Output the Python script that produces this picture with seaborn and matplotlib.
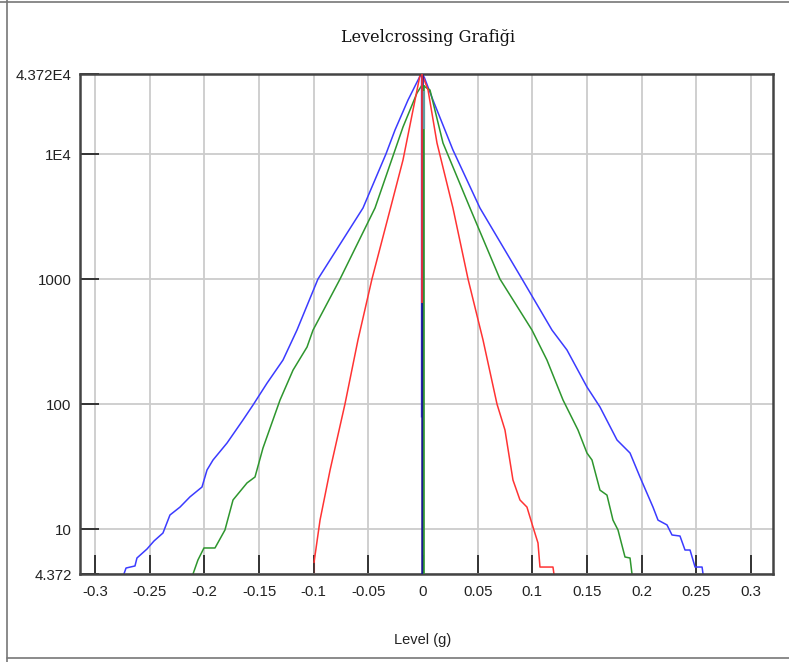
import numpy as np
import pandas as pd
import matplotlib
matplotlib.use('Agg')
import matplotlib.pyplot as plt
import seaborn as sns
from matplotlib.lines import Line2D

# Level crossing counts (level in g, count)
blue_level = [-0.2736, -0.2717, -0.2635, -0.2617, -0.2525, -0.2461, -0.2379, -0.2315,
              -0.2223, -0.2132, -0.2022, -0.1976, -0.1921, -0.1793, -0.1647, -0.1555,
              -0.1427, -0.1281, -0.1153, -0.0961, -0.0549, -0.0339, -0.0256, -0.0137,
              -0.0027, 0.0010, 0.0091, 0.0274, 0.0521, 0.0906, 0.1180, 0.1317, 0.1500,
              0.1619, 0.1775, 0.1894, 0.1985, 0.2104, 0.2150, 0.2232, 0.2278, 0.2351,
              0.2397, 0.2443, 0.2489, 0.2553, 0.2562]
blue_count = [4.372, 4.88, 5.07, 5.87, 6.93, 8.03, 9.30, 12.96,
              15.0, 18.1, 21.7, 29.7, 35.7, 48.8, 74.6, 98.3,
              147, 225, 391, 1001, 3704, 10015, 15590, 27080,
              42140, 41500, 27080, 10780, 3704, 1001, 391, 271, 137,
              94.8, 51.6, 40.6, 26.1, 15.0, 11.8, 10.8, 8.97, 8.80,
              6.80, 6.80, 4.97, 4.97, 4.372]

green_level = [-0.2104, -0.2059, -0.2004, -0.1903, -0.1812, -0.1738, -0.1610, -0.1537,
               -0.1464, -0.1308, -0.1189, -0.1061, -0.1006, -0.0759, -0.0439, -0.0183,
               -0.0055, -0.0009, 0.0064, 0.0183, 0.0430, 0.0704, 0.0997, 0.1134, 0.1281,
               0.1418, 0.1500, 0.1546, 0.1619, 0.1683, 0.1738, 0.1784, 0.1848, 0.1894,
               0.1912]
green_count = [4.372, 5.66, 7.06, 7.06, 9.83, 17.1, 23.4, 26.1,
               44.5, 107.8, 187, 286, 391, 1001, 3704, 16470,
               30810, 35700, 32560, 12260, 3704, 1001, 391, 225, 107.8,
               62.0, 40.6, 35.7, 20.5, 18.7, 11.8, 9.83, 5.98, 5.87,
               4.372]

red_level = [-0.0997, -0.0997, -0.0942, -0.0850, -0.0714, -0.0595, -0.0467, -0.0302,
             -0.0183, -0.0073, -0.0027, -0.0009, 0.0046, 0.0128, 0.0274, 0.0412, 0.0549,
             0.0677, 0.0750, 0.0823, 0.0887, 0.0951, 0.1006, 0.1052, 0.1070, 0.1189,
             0.1198]
red_count = [4.372, 6.44, 11.8, 29.7, 100, 326, 1001, 3570,
             8968, 27080, 42920, 43720, 32560, 12260, 3704, 1001, 326,
             100, 62.0, 24.7, 17.1, 15.0, 10.4, 7.74, 4.97, 4.97,
             4.372]

# vertical spikes at level 0
spike_level = [-0.0021, -0.0009, -0.0009, 0.0009, 0.0005]
spike_top = [42000, 43720, 43720, 35700, 32000]
spike_bottom = [78.8, 4.372, 643, 4.372, 16000]
spike_color = ['#4d4dff', '#1a1a8c', '#ff3333', '#2e962e', '#5f9ea0']
spike_width = [1.0, 1.8, 1.2, 1.2, 1.6]

x_ticks = [-0.3, -0.25, -0.2, -0.15, -0.1, -0.05, 0, 0.05, 0.1, 0.15, 0.2, 0.25, 0.3]
x_labels = ['-0.3', '-0.25', '-0.2', '-0.15', '-0.1', '-0.05', '0', '0.05', '0.1',
            '0.15', '0.2', '0.25', '0.3']
y_ticks = [4.372, 10, 100, 1000, 1e4, 4.372e4]
y_labels = ['4.372', '10', '100', '1000', '1E4', '4.372E4']

sns.set_style('whitegrid')
plt.rcParams['font.family'] = ['Liberation Sans', 'DejaVu Sans']

fig = plt.figure(figsize=(7.89, 6.62), dpi=100)
ax = fig.add_axes([80 / 789, 1 - 574 / 662, 693 / 789, 500 / 662])

series = [(blue_level, blue_count, '#3b3bff'),
          (green_level, green_count, '#2e962e'),
          (red_level, red_count, '#ff3333')]
for lv, ct, col in series:
    d = pd.DataFrame({'Level': lv, 'Count': ct})
    sns.lineplot(data=d, x='Level', y='Count', sort=False, color=col,
                 linewidth=1.1, ax=ax)

for xv, t, b, c, w in zip(spike_level, spike_top, spike_bottom, spike_color, spike_width):
    ax.vlines(xv, b, t, color=c, linewidth=w, zorder=3)

ax.set_yscale('log')
ax.set_xlim(-0.3138, 0.3202)
ax.set_ylim(4.372, 4.372e4)
ax.set_xticks(x_ticks)
ax.set_xticklabels(x_labels)
ax.set_yticks(y_ticks)
ax.set_yticklabels(y_labels)
ax.yaxis.set_minor_locator(matplotlib.ticker.NullLocator())

ax.grid(True, color='#cccccc', linewidth=1.3)
ax.tick_params(axis='x', direction='in', length=13.5, width=1.4, color='#333333',
               labelsize=10.8, labelcolor='#222222', pad=8, bottom=True)
ax.tick_params(axis='y', direction='in', length=14, width=1.4, color='#333333',
               labelsize=10.8, labelcolor='#222222', pad=6, left=True)
for s in ax.spines.values():
    s.set_color('#444444')
    s.set_linewidth(1.8)

ax.set_xlabel('Level (g)', fontsize=10.5, color='#222222')
ax.xaxis.set_label_coords(0.495, -0.132)
ax.xaxis.label.set_va('center')
ax.set_ylabel('')

fig.text(428 / 789, 1 - 38 / 662, 'Levelcrossing Grafiği', family='DejaVu Serif',
         fontsize=11.5, ha='center', va='center', color='#111111')

# screenshot frame
fig.add_artist(Line2D([7 / 789, 7 / 789], [0, 1], color='#777777', linewidth=1.2))
fig.add_artist(Line2D([0, 1], [1 - 1.5 / 662, 1 - 1.5 / 662], color='#777777', linewidth=1.2))
fig.add_artist(Line2D([7 / 789, 1], [1 - 658 / 662, 1 - 658 / 662], color='#777777', linewidth=1.2))

fig.savefig('out.png', dpi=100)
